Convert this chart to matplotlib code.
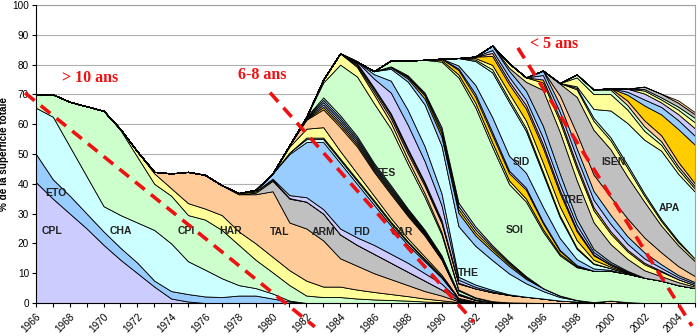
import matplotlib
matplotlib.use("Agg")
import matplotlib.pyplot as plt

YEARS = list(range(1966, 2006))

def series(start, vals):
    arr = [0.0] * len(YEARS)
    for i, v in enumerate(vals):
        arr[start - 1966 + i] = v
    return arr

# ---- data: % of total area per variety (start year, yearly values) ----
CPL = series(1966, [40.5, 35, 30, 25, 19.5, 14.5, 10, 5.5, 1.5, 0.5])
ETO = series(1966, [9.5, 6.5, 6, 5, 4.5, 4, 3.5, 2, 2.5, 2.5, 2.2, 2, 2.5, 2.5, 1.5, 0.5])
CHA = series(1966, [15.5, 21, 16.5, 12.5, 8.5, 11, 13.5, 17, 16, 11, 9, 6.3, 3.5, 2.5, 1.7, 0.3])
CPI = series(1966, [4.5, 7.5, 15, 23.5, 32, 28.5, 22, 15.5, 16, 15.5, 16.8, 16.2, 13.5, 9.5,
                    7.1, 5.2, 2.5, 2, 2, 1.5, 1.2, 1, 0.8, 0.5, 0.3, 0.1])
HAR = series(1971, [0.3, 1.8, 3.5, 2.5, 4, 3.7, 5, 4.5, 5.5, 5.2, 5, 5, 3.5, 3.5, 3, 2.5, 2,
                    1.5, 1, 0.6, 0.2])
TAL = series(1973, [0.5, 5, 10.5, 11.3, 10, 12.5, 16.5, 22, 16, 17.5, 15.5, 9.5, 8, 6.3, 5,
                    3.7, 2.5, 1.6, 0.3, 0.2])
ARM = series(1979, [0.5, 3.5, 8, 9, 9, 8, 7, 6.5, 5.5, 4.5, 3.5, 2, 0.3, 0.1])
V08 = series(1978, [0.4, 0.5, 0.4, 0.2])
V09 = series(1980, [0.3, 1, 1.5, 1.5, 2, 2.5, 3, 3, 3, 2.5, 2, 0.3, 0.1])
FID = series(1979, [0.5, 1.8, 13.8, 18.5, 22.5, 22, 18, 13.5, 9.5, 6, 4, 2, 0.3, 0.1])
V11 = series(1981, [0.5, 1, 1, 1, 1, 1, 0.8, 0.8, 0.5, 0.3])
V12 = series(1982, [0.5, 0.5, 0.5, 0.5, 0.5, 0.5, 0.4, 0.3, 0.2])
V13 = series(1981, [2, 3, 3.5, 2.5, 2, 1.5, 1.2, 1, 0.8, 0.5, 0.2])
CAR = series(1981, [0.5, 3, 6, 8, 9, 8, 8, 7.5, 7, 5, 1, 0.5, 0.3, 0.2, 0.1])
V15 = series(1982, [0.2, 0.8, 0.8, 0.7, 0.6, 0.6, 0.5, 0.4, 0.3, 0.1, 0.04])
V16 = series(1982, [0.2, 0.8, 0.8, 0.7, 0.6, 0.6, 0.5, 0.4, 0.3, 0.1, 0.04])
V17 = series(1982, [0.2, 0.8, 0.8, 0.7, 0.6, 0.6, 0.5, 0.4, 0.3, 0.1, 0.04])
V18 = series(1982, [0.2, 0.8, 0.8, 0.7, 0.6, 0.6, 0.5, 0.4, 0.3, 0.1, 0.04])
V19 = series(1982, [0.2, 0.8, 0.8, 0.7, 0.6, 0.6, 0.5, 0.4, 0.3, 0.1, 0.04])
FES = series(1983, [5, 17, 20, 20, 19, 15, 11, 7, 1, 0.5, 0.3])
V21 = series(1983, [1, 3.8, 3.2, 3, 2, 1.5, 1.2, 0.8, 0.3, 0.2])
V22 = series(1985, [0.5, 1, 1.5, 2, 2.5, 3, 2, 3, 3, 2.5, 2, 1.5, 0.8, 0.5, 0.3, 0.8, 0.3])
V23 = series(1985, [0.5, 0.8, 1, 1, 0.8, 0.6, 0.2])
V24 = series(1985, [0.3, 0.5, 0.6, 0.6, 0.5, 0.4, 0.1])
V25 = series(1985, [0.5, 3, 7, 8, 7, 5, 1, 0.5, 0.3])
V26 = series(1986, [1.5, 4, 5, 5, 4, 1, 0.8, 0.5, 0.2])
THE = series(1986, [1, 4, 9.5, 14, 16, 17, 13, 10, 7, 4.5, 2.5, 1.2, 0.5])
V28 = series(1987, [0.5, 1, 2, 3, 4.5, 3.5, 3, 2.5, 1.5, 1, 0.5])
V29 = series(1987, [0.3, 0.5, 1, 1.2, 1.2, 1, 0.8, 0.6, 0.4])
V30 = series(1988, [0.3, 0.5, 1, 1, 1, 0.6, 0.5, 0.3])
V31 = series(1988, [0.3, 0.5, 1, 1.2, 1, 0.6, 0.4, 0.2])
SOI = series(1987, [2, 5, 11, 22, 42, 40, 33, 26, 25, 19, 13.5, 11, 10.5, 10, 9.5, 8.5,
                    7.5, 6, 5])
V33 = series(1990, [0.5, 1, 1.5, 1.5, 1.2, 1, 0.8, 0.5, 0.3])
V34 = series(1990, [0.5, 1.5, 2, 2.5, 2.5, 3, 2, 1, 0.4])
V35 = series(1991, [0.5, 1, 1, 0.8, 0.7, 0.5, 0.3])
V36 = series(1991, [1, 3, 5, 5, 5, 5, 4, 2, 0.8, 0.3])
SID = series(1991, [2.5, 8, 15, 18, 14, 11, 7, 3.5, 1.5, 0.6, 0.3])
V38 = series(1992, [0.5, 1, 1, 1, 0.8, 0.6, 0.4, 0.2])
V39 = series(1992, [0.5, 1.5, 2, 2.5, 3, 3, 2.5, 1.2, 0.5, 0.2])
V40 = series(1992, [0.5, 3, 3, 4, 5, 4.5, 3, 1.5, 0.6, 0.2])
V41 = series(1993, [1, 1, 1.2, 1.2, 1, 0.6, 0.3])
V42 = series(1993, [1, 1.5, 1.8, 2.2, 2, 1.5, 0.8, 0.4])
V43 = series(1993, [1.5, 2, 3, 4, 3.5, 2, 1, 0.6, 0.3])
TRE = series(1994, [1, 3, 12, 14, 13, 9, 6, 4, 2.5, 1.5, 1, 0.5])
V45 = series(1994, [1.5, 1.5, 2.5, 3.5, 4, 4, 3.5, 2.5, 2, 1.5, 1, 0.5])
V46 = series(1996, [1, 1.2, 1.2, 1, 0.8, 0.6, 0.5, 0.3])
V47 = series(1996, [1.5, 2, 2.5, 2.5, 2.5, 2, 1.5, 1, 0.7, 0.5])
V48 = series(1996, [1.5, 2.5, 3, 3, 3, 2.5, 2, 1.2, 0.7, 0.5])
V49 = series(1997, [3, 5, 5.5, 6, 6, 5, 4, 3, 2])
ISEN = series(1997, [4, 12.3, 15, 16, 14, 12, 9, 7, 5])
V51 = series(1997, [0.2, 2.5, 3, 3, 3, 2, 1.5, 1, 0.8])
V52 = series(1998, [0.5, 1, 1, 1, 0.8, 0.6, 0.5])
APA = series(1998, [0.5, 3, 9, 14, 18, 23, 22.5, 22.5])
V54 = series(1998, [3, 5, 5.5, 4.5, 3, 2, 1.5, 1])
V55 = series(1998, [1, 1.5, 1.5, 1.5, 1.5, 1.2, 1, 0.8])
V56 = series(2000, [0.5, 1.5, 2, 2, 1.5, 1])
V57 = series(2001, [2, 5, 7, 11, 13])
V58 = series(2001, [1, 2, 2.5, 3, 3])
V59 = series(2001, [1, 2, 1.5, 2, 2.5])
V60 = series(2002, [1, 1, 1.5, 2])
V61 = series(2002, [0.5, 0.7, 1, 1.5])
V62 = series(2002, [0.8, 1.2, 1.3, 1.2])
V63 = series(2004, [0.8, 0.7])

# palette
L, B, C, G = "#CCCCFF", "#99CCFF", "#CCFFFF", "#CCFFCC"
Y, P, S, O = "#FFFF99", "#FFCC99", "#C0C0C0", "#FFCC00"

stack = [
    (CPL, L), (ETO, B), (CHA, C), (CPI, G), (HAR, Y), (TAL, P), (ARM, S), (V08, O),
    (V09, L), (FID, B), (V11, C), (V12, G), (V13, Y), (CAR, P), (V15, O), (V16, S),
    (V17, L), (V18, B), (V19, C), (FES, G), (V21, Y), (V22, P), (V23, S), (V24, O),
    (V25, L), (V26, B), (THE, C), (V28, B), (V29, O), (V30, Y), (V31, L), (SOI, G),
    (V33, Y), (V34, O), (V35, L), (V36, B), (SID, C), (V38, G), (V39, Y), (V40, O),
    (V41, P), (V42, L), (V43, B), (TRE, S), (V45, Y), (V46, O), (V47, L), (V48, B),
    (V49, P), (ISEN, S), (V51, Y), (V52, G), (APA, C), (V54, Y), (V55, G), (V56, P),
    (V57, O), (V58, B), (V59, L), (V60, Y), (V61, G), (V62, S), (V63, P),
]

LABELS = ["CPL", "ETO", "CHA", "CPI", "HAR", "TAL", "ARM", "FID", "CAR", "FES",
          "THE", "SOI", "SID", "TRE", "ISEN", "APA"]
LABEL_X = [1966.95, 1967.2, 1971.0, 1974.9, 1977.5, 1980.4, 1983.0, 1985.3, 1987.65,
           1986.65, 1991.6, 1994.35, 1994.7, 1997.8, 2000.15, 2003.5]
LABEL_Y = [24.2, 36.9, 24.2, 24.2, 24.2, 23.8, 23.8, 23.8, 23.8, 43.6, 10.0, 24.5, 47.3,
           34.6, 47.3, 31.9]

TREND_TEXT = ["> 10 ans", "6-8 ans", "< 5 ans"]
TREND_TEXT_XY = [(1969.2, 75.5), (1979.4, 76.5), (1996.65, 86.9)]
TREND_LINES = [((1965.35, 70.5), (1982.5, -8.0)),
               ((1979.85, 70.6), (1991.92, -6.4)),
               ((1994.52, 85.6), (2004.82, -7.7))]

plt.rcParams["font.family"] = ["Liberation Sans", "DejaVu Sans"]

fig = plt.figure(figsize=(7.0, 3.36), dpi=100)
ax = fig.add_axes([36 / 700, 33 / 336, 659 / 700, 298 / 336])

ax.stackplot(YEARS, *[s for s, _ in stack], colors=[c for _, c in stack],
             edgecolor="black", linewidth=0.6, zorder=2)

ax.set_xlim(1966, 2005)
ax.set_ylim(0, 100)
ax.set_yticks(range(0, 101, 10))
ax.set_xticks(range(1966, 2006))
ax.set_xticklabels([str(y) if (y - 1966) % 2 == 0 and y <= 2004 else "" for y in range(1966, 2006)],
                   rotation=45, ha="right", rotation_mode="anchor", fontsize=7.2)
ax.tick_params(axis="x", direction="out", length=3, width=0.8, pad=3, colors="black")
ax.tick_params(axis="y", direction="out", length=3, width=0.8, labelsize=7.2, pad=2)
ax.yaxis.grid(True, color="#B0B0B0", linewidth=0.8, zorder=0)
ax.set_axisbelow(True)
for side in ["top", "right"]:
    ax.spines[side].set_color("#A0A0A0")
    ax.spines[side].set_linewidth(0.8)
for side in ["left", "bottom"]:
    ax.spines[side].set_color("black")
    ax.spines[side].set_linewidth(0.8)
    ax.spines[side].set_zorder(5)

ax.set_ylabel("% de la superficie totale", fontsize=7.2, fontweight="bold")
ax.yaxis.set_label_coords(-0.041, 0.5)

for name, x, y in zip(LABELS, LABEL_X, LABEL_Y):
    ax.text(x, y, name, fontsize=7.5, fontweight="bold", color="#222222",
            ha="center", va="center", zorder=6)

for (x0, y0), (x1, y1) in TREND_LINES:
    ax.plot([x0, x1], [y0, y1], color="#EE1111", linewidth=2.6, dashes=(3.4, 2.2),
            solid_capstyle="butt", dash_capstyle="butt", clip_on=False, zorder=7)

for txt, (x, y) in zip(TREND_TEXT, TREND_TEXT_XY):
    ax.text(x, y, txt, fontsize=11.5, fontweight="bold", color="#EE1111",
            family=["Liberation Serif", "DejaVu Serif"], ha="center", va="center", zorder=8)

fig.savefig("out.png", dpi=100)
